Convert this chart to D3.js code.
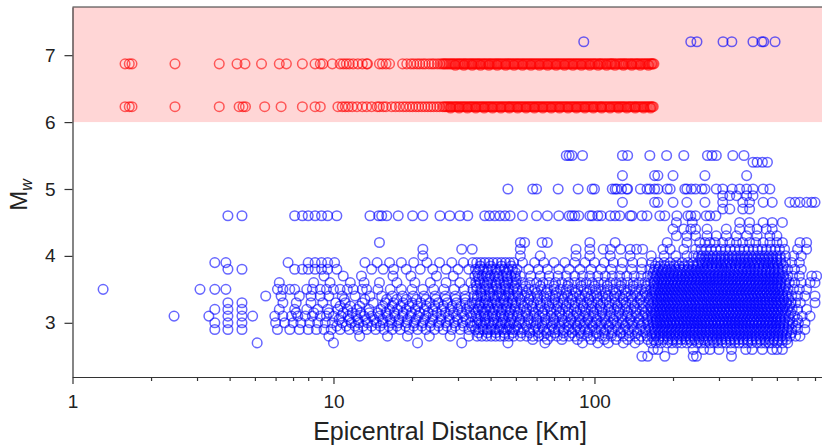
<!DOCTYPE html>
<html>
<head>
<meta charset="utf-8">
<script src="https://cdn.jsdelivr.net/npm/d3@7"></script>
<style>
body { margin: 0; background: #fff; }
svg { display: block; font-family: "Liberation Sans", Arial, Helvetica, sans-serif; }
</style>
</head>
<body>
<svg id="chart"></svg>
<script>
// magnitude levels of the blue (below threshold) events, one distance list per level
var blueMw = [2.5, 2.6, 2.7, 2.8, 2.9, 3.0, 3.1, 3.2, 3.3, 3.4, 3.5, 3.6, 3.7, 3.8, 3.9,
              4.0, 4.1, 4.2, 4.3, 4.4, 4.5, 4.6, 4.7, 4.8, 4.9, 5.0, 5.2, 5.4, 5.5, 7.2];
var blueKm = [
  [152, 160, 186, 239, 246, 335],
  [168, 175, 200, 239, 262, 277, 300, 335, 380, 402, 440, 480, 500, 525],
  [5.1, 10, 21, 31, 46.6, 64.6, 90, 103, 113, 129, 143, 165, 172, 180, 190, 198, 207, 216, 226, 236, 248, 256, 266, 277, 287, 297, 308, 320, 333, 345, 358, 372, 386, 400, 420, 436, 452, 466, 480, 500, 524, 550],
  [9.6, 12.6, 16.1, 19.2, 23.3, 28, 33, 35.5, 37, 38.6, 40.2, 41.8, 43.5, 45.2, 47, 49, 52, 55, 58, 61, 64, 68, 72, 76, 80, 84, 89, 94, 99, 104, 110, 116, 122, 129, 136, 143, 151, 159, 166, 172, 178, 184, 190, 196, 203, 210, 217, 224, 231, 239, 247, 255, 263, 272, 281, 290, 300, 310, 320, 330, 341, 352, 364, 376, 388, 401, 414, 428, 442, 457, 472, 488, 504, 521, 540, 562, 590, 613],
  [3.51, 3.94, 4.46, 6.1, 6.8, 7.4, 8.0, 8.6, 9.2, 9.8, 10.6, 11.5, 12.4, 13.4, 14.5, 15.6, 16.8, 18, 19.5, 21, 22.6, 24.4, 26.3, 28.4, 30.6, 33, 35, 36.2, 37.5, 38.8, 40.1, 41.5, 43, 44.5, 46, 47.6, 49.3, 51, 53.5, 56, 58.5, 61, 64, 67, 70, 73, 76.5, 80, 84, 88, 92, 96, 101, 106, 111, 117, 123, 129, 135, 142, 149, 157, 164, 170, 175, 181, 187, 193, 199, 206, 213, 220, 227, 235, 243, 251, 259, 268, 277, 286, 295, 305, 315, 325, 336, 347, 358, 370, 382, 395, 408, 421, 435, 450, 465, 480, 496, 512, 530, 548, 570, 600, 640],
  [3.51, 3.94, 4.46, 6.0, 6.5, 7.0, 7.5, 8.1, 8.7, 9.3, 9.9, 10.8, 11.7, 12.5, 13.5, 14.6, 15.5, 16.7, 17.8, 19.1, 20.4, 22, 23.5, 25.3, 27, 29, 31.2, 33.4, 35.5, 36.8, 38.1, 39.5, 41, 42.5, 44, 45.6, 47.3, 49, 51.5, 54, 57, 60, 63, 66, 69.5, 73, 76.5, 80, 84, 88, 92, 96.5, 101, 106, 111, 116, 122, 128, 134, 140, 147, 154, 161, 168, 173, 178, 184, 189, 195, 201, 207, 213, 220, 227, 234, 241, 248, 256, 264, 272, 280, 289, 298, 307, 316, 326, 336, 346, 357, 368, 379, 391, 403, 415, 428, 441, 455, 469, 483, 498, 514, 530, 550, 575, 605, 641],
  [2.45, 3.33, 3.94, 4.46, 4.9, 5.96, 6.4, 6.9, 7.3, 7.8, 8.3, 8.9, 9.4, 10, 10.7, 11.4, 12.2, 13.1, 14, 15, 16.1, 17.2, 18.4, 19.7, 21.1, 22.6, 24.1, 25.8, 27.6, 29.5, 31.6, 33.8, 35.3, 36.6, 37.9, 39.2, 40.6, 42, 43.6, 45.1, 46.8, 48.5, 50.5, 53, 55.5, 58.5, 61.5, 64.5, 68, 71.5, 75, 79, 83, 87, 91, 95.5, 100, 105, 110, 115, 121, 127, 133, 139, 146, 153, 160, 166, 171, 176, 182, 187, 193, 199, 205, 211, 218, 225, 232, 239, 246, 254, 262, 270, 278, 287, 296, 305, 314, 324, 334, 344, 355, 366, 377, 389, 401, 413, 426, 439, 453, 467, 482, 497, 513, 532, 555, 585, 625, 670],
  [3.51, 3.94, 4.46, 6.2, 7.1, 7.9, 8.7, 9.5, 10.4, 11.3, 12.3, 13.7, 15.2, 16.4, 17.6, 19, 20.6, 22.3, 24, 26, 28, 30, 32.3, 34.5, 35.8, 37.1, 38.4, 39.8, 41.3, 42.8, 44.3, 45.9, 47.6, 49.4, 52, 55, 58, 61, 64.5, 68, 71.5, 75.5, 79.5, 83.5, 88, 92.5, 97, 102, 107, 113, 119, 125, 131, 138, 145, 152, 160, 167, 172, 178, 183, 189, 195, 201, 208, 215, 222, 229, 236, 244, 252, 260, 268, 276, 285, 294, 303, 313, 323, 333, 343, 354, 365, 376, 388, 400, 412, 425, 438, 452, 466, 481, 496, 512, 528, 548, 572, 600, 650],
  [3.94, 4.46, 6.4, 7.2, 8.2, 9.1, 10.2, 11.1, 12.9, 14.2, 15.8, 17, 18.5, 20, 21.6, 23.4, 25.2, 27.3, 29.6, 32, 34, 35.2, 36.5, 37.8, 39.1, 40.5, 42, 43.5, 45, 46.6, 48.3, 50, 52.5, 55.5, 58.5, 62, 65.5, 69, 72.5, 76, 80, 84.5, 89, 93.5, 98, 103, 108, 114, 120, 126, 132, 139, 146, 153, 161, 168, 174, 179, 185, 191, 197, 203, 210, 217, 224, 231, 238, 246, 254, 262, 271, 280, 289, 298, 308, 318, 328, 338, 349, 360, 372, 384, 396, 409, 422, 436, 450, 465, 480, 495, 511, 527, 545, 566, 590, 615, 700],
  [5.5, 6.3, 7.4, 8.2, 8.9, 9.6, 10.8, 12.1, 13.8, 15.3, 16.8, 18.4, 20.2, 22.2, 24.5, 26.8, 29.3, 32, 34.5, 35.6, 36.9, 38.2, 39.6, 41, 42.5, 44, 45.6, 47.2, 48.9, 51, 54, 57, 60.5, 64, 67.5, 71, 75, 79, 83, 87.5, 92, 97, 102, 107.5, 113, 119, 125, 131.5, 138, 145, 152, 159, 166, 171, 177, 182, 188, 194, 200, 207, 214, 221, 228, 235, 243, 251, 259, 267, 275, 284, 293, 302, 312, 322, 332, 342, 353, 364, 375, 387, 399, 411, 424, 437, 451, 465, 479, 494, 510, 526, 544, 570, 600, 640, 700],
  [1.31, 3.08, 3.51, 3.87, 6.1, 6.4, 6.8, 7.1, 7.9, 8.3, 8.9, 9.4, 10, 10.6, 11.3, 11.9, 12.9, 13.4, 14.8, 16.5, 18.2, 20, 22, 24.2, 26.5, 29, 31.7, 34.2, 35.4, 36.7, 38, 39.4, 40.8, 42.3, 43.8, 45.4, 47, 48.7, 50.5, 53, 56, 59, 62.5, 66, 70, 74, 78, 82, 86.5, 91, 96, 101, 106, 112, 118, 124, 130, 137, 144, 151, 158, 165, 170, 175, 181, 186, 192, 198, 204, 211, 218, 225, 232, 240, 248, 256, 264, 273, 282, 291, 300, 310, 320, 330, 341, 352, 363, 375, 387, 399, 412, 425, 439, 453, 468, 483, 499, 515, 532, 552, 580, 610, 650],
  [6.2, 8.4, 9.7, 11.6, 13.1, 15, 17.5, 20.5, 23.5, 27, 30.5, 33.6, 35.1, 36.4, 37.7, 39, 40.4, 41.9, 43.4, 45, 46.6, 48.2, 50, 53, 56.5, 60, 63.5, 67, 71, 75, 79.5, 84, 88.5, 93, 98, 103.5, 109, 115, 121, 127, 134, 141, 148, 156, 164, 169, 174, 180, 185, 191, 197, 203, 209, 216, 223, 230, 237, 245, 253, 261, 269, 277, 286, 295, 304, 314, 324, 334, 345, 356, 367, 379, 391, 403, 416, 429, 443, 457, 471, 486, 502, 518, 536, 558, 585, 620, 670, 700],
  [9.2, 10.9, 12.8, 16.9, 19.8, 24.8, 28.8, 34.8, 35.9, 37.2, 38.5, 39.9, 41.4, 42.9, 44.5, 46.1, 47.8, 49.6, 52, 57, 62, 67, 72.5, 78, 84, 90, 96, 103, 110, 117, 125, 133, 142, 151, 160, 167, 172, 178, 184, 190, 196, 202, 209, 216, 223, 230, 238, 246, 254, 262, 271, 280, 289, 298, 308, 318, 328, 339, 350, 361, 373, 385, 397, 410, 423, 437, 451, 466, 481, 497, 513, 530, 550, 575, 610, 680, 710],
  [3.94, 4.46, 7.1, 7.6, 8, 8.5, 9, 9.5, 10.3, 14, 15.5, 17, 19, 21.5, 24, 27, 30, 33, 35, 36.3, 37.6, 39, 40.4, 41.9, 43.5, 45.1, 46.8, 48.5, 50.5, 56, 61, 66, 73, 80, 88, 97, 106, 116, 127, 139, 152, 163, 170, 176, 183, 190, 197, 204, 212, 220, 228, 236, 245, 254, 263, 272, 282, 292, 302, 313, 324, 335, 347, 359, 372, 385, 398, 412, 426, 441, 456, 472, 488, 505, 525, 550, 585, 620],
  [3.51, 3.87, 6.7, 8, 8.5, 9, 9.5, 10.1, 13.2, 14.7, 16.4, 18.2, 20.3, 22.8, 25.5, 28.4, 31.5, 34.2, 35.4, 36.7, 38, 39.4, 40.9, 42.4, 44, 45.6, 47.3, 49, 53, 59, 64, 70, 77, 84, 92, 100, 109, 118, 128, 140, 152, 166, 175, 185, 195, 206, 217, 228, 239, 250, 258, 266, 274, 283, 292, 301, 311, 321, 331, 342, 353, 364, 376, 388, 400, 413, 426, 440, 454, 469, 484, 500, 518, 540, 570, 610],
  [22, 52, 62, 85, 96, 115, 137, 165, 185, 205, 226, 240, 250, 258, 267, 276, 285, 295, 305, 315, 326, 337, 348, 360, 372, 384, 397, 410, 424, 438, 452, 467, 482, 498, 515, 540, 580, 620],
  [22, 31, 34, 52, 85, 96, 108, 115, 126, 137, 145, 153, 183, 195, 220, 244, 256, 268, 280, 292, 305, 318, 331, 345, 360, 375, 390, 406, 422, 439, 456, 474, 492, 512, 535, 600, 650],
  [15, 52, 54, 63, 66, 96, 120, 190, 226, 253, 265, 277, 290, 310, 330, 350, 370, 393, 415, 443, 470, 500, 525, 613, 650],
  [206, 226, 244, 270, 293, 320, 350, 383, 420, 470, 500],
  [200, 220, 234, 244, 270, 320, 360, 393, 420, 455, 480],
  [206, 237, 360, 393, 443, 480, 525],
  [3.94, 4.46, 7.1, 7.6, 8, 8.5, 9, 9.5, 10.3, 13.8, 14.9, 15.3, 16, 17.7, 20.1, 22, 25.6, 27.9, 30.5, 32.7, 38, 39.6, 41.5, 43.4, 45.4, 47.5, 53, 60, 66, 73, 80, 82, 84, 87, 96, 98, 103, 106, 115, 120, 125, 137, 139, 152, 159, 178, 186, 207, 228, 234, 244, 268, 277, 292],
  [310, 330, 370, 393],
  [128, 170, 175, 200, 226, 265, 310, 370, 393, 443, 480, 560, 587, 613, 650, 680, 700],
  [310, 330, 350, 383, 405],
  [46.6, 58, 60, 72.6, 86.6, 98, 100, 117, 120, 122, 127, 133, 134, 150, 159, 163, 170, 175, 190, 195, 222, 226, 235, 244, 258, 265, 293, 310, 337, 360, 383, 405, 443, 470],
  [128, 170, 175, 200, 265, 383],
  [405, 420, 440, 460],
  [78, 80, 82, 90, 128, 134, 163, 189, 220, 271, 282, 293, 339, 374],
  [91, 234, 247, 311, 336, 405, 438, 445, 492]
];

// in-between magnitudes that fill the crowded part of the cloud
var blueMwHalf = [2.75, 2.85, 2.95, 3.05, 3.15, 3.25, 3.35, 3.45, 3.55, 3.65, 3.75, 3.85, 3.95];
var blueKmHalf = [
  [58, 66, 75, 86, 97, 109, 121, 134, 148, 160, 169, 176, 183, 191, 199, 207, 215, 224, 233, 242, 252, 262, 272, 283, 294, 306, 318, 331, 344, 357, 371, 386, 401, 417, 433, 450, 468, 486, 505, 525, 545],
  [36, 38.9, 41.9, 45.1, 48.6, 52.5, 56.5, 61, 65.5, 70.5, 76, 82, 88, 94.5, 101.5, 109, 117, 126, 135.5, 145.5, 156.5, 166, 171.5, 177.5, 183.5, 190, 196.5, 203, 210, 217.5, 225, 232.5, 240.5, 249, 257.5, 266.5, 275.5, 285, 295, 305, 315.5, 326.5, 337.5, 349, 361, 373.5, 386.5, 399.5, 413.5, 427.5, 442, 457.5, 473, 489.5, 506, 523.5, 545, 570],
  [10.3, 11.2, 12.1, 13, 14, 15.1, 16.3, 17.5, 18.9, 20.3, 21.8, 23.5, 25.3, 27.2, 29.3, 31.5, 33.8,
   34.6, 37.3, 40.3, 43.5, 47, 50.2, 54.8, 59.5, 63.2, 68.8, 73.5, 79.8, 85.5, 91.3, 98.2, 105.5, 113.2, 121.5, 130.8, 140.2, 150.8, 161.2, 168.5, 174, 179.8, 185.8, 192, 198.4, 205, 211.8, 218.8, 226, 233.5, 241.3, 249.3, 257.6, 266.2, 275, 284.2, 293.6, 303.4, 313.5, 323.9, 334.7, 345.8, 357.3, 369.2, 381.4, 394.1, 407.2, 420.7, 434.7, 449.1, 464, 479.4, 495.4, 511.8, 530, 555, 590],
  [10.5, 11.5, 12.4, 13.3, 14.3, 15.4, 16.5, 17.8, 19.2, 20.7, 22.3, 24, 25.8, 27.8, 29.9, 32.2,
   35.8, 38.2, 41.2, 44.6, 48, 51.8, 55.9, 60.2, 64.9, 69.9, 75.4, 81.3, 87.6, 94.4, 101.8, 109.7, 118.3, 127.5, 137.4, 148.1, 159.6, 167, 172.6, 178.4, 184.4, 190.6, 197, 203.6, 210.5, 217.6, 224.9, 232.5, 240.3, 248.4, 256.7, 265.4, 274.3, 283.5, 293.1, 302.9, 313.1, 323.7, 334.6, 345.9, 357.5, 369.6, 382, 394.9, 408.2, 421.9, 436.1, 450.8, 466, 481.7, 498, 515, 535, 560, 600],
  [7.2, 8.4, 9.6, 10.9, 11.8, 12.7, 13.7, 14.8, 15.9, 17.1, 18.5, 19.9, 21.4, 23.1, 24.9, 26.8, 28.8, 31, 33.3,
   35.1, 37.7, 40.7, 43.9, 47.3, 50.8, 54.6, 58.8, 63.4, 68.4, 73.6, 79.3, 85.5, 92.1, 99.3, 107, 115.3, 124.2, 133.9, 144.3, 155.5, 165.5, 170.8, 176.5, 182.3, 188.4, 194.6, 201.1, 207.8, 214.7, 221.9, 229.3, 236.9, 244.8, 253, 261.4, 270.1, 279.1, 288.4, 298, 307.9, 318.2, 328.8, 339.8, 351.1, 362.8, 374.9, 387.4, 400.3, 413.6, 427.4, 441.6, 456.3, 471.5, 487.2, 503.4, 520.2, 540, 565],
  [10.6, 11.6, 12.6, 15.5, 16.8, 18.1, 19.5, 21, 22.7, 24.5, 26.4, 28.5, 30.7, 33.1,
   36.2, 39.2, 42.5, 46, 49.8, 53.4, 57.6, 62.1, 67, 72.2, 77.9, 84, 90.6, 97.7, 105.3, 113.6, 122.5, 132.1, 142.4, 153.6, 164, 169.7, 175.3, 181.2, 187.2, 193.4, 199.9, 206.5, 213.4, 220.5, 227.9, 235.5, 243.3, 251.4, 259.8, 268.5, 277.4, 286.7, 296.2, 306.1, 316.3, 326.8, 337.7, 349, 360.6, 372.6, 385, 397.8, 411.1, 424.8, 438.9, 453.5, 468.7, 484.3, 500.4, 517, 536, 560],
  [11, 13.2, 16, 17.5, 19, 20.8, 22.6, 24.7, 27, 29.4, 32,
   35.5, 38.4, 41.5, 44.9, 48.4, 52, 56.1, 60.6, 65.3, 70.4, 76, 81.9, 88.4, 95.3, 102.8, 110.9, 119.6, 129, 139.1, 150, 161.8, 168.2, 173.8, 179.6, 185.6, 191.8, 198.2, 204.8, 211.6, 218.7, 226, 233.5, 241.3, 249.3, 257.6, 266.2, 275.1, 284.3, 293.8, 303.6, 313.7, 324.2, 335, 346.2, 357.7, 369.6, 381.9, 394.7, 407.8, 421.4, 435.4, 449.9, 464.9, 480.4, 496.4, 513, 532, 555],
  [36.6, 39.8, 43.2, 46.8, 50.5, 55, 60, 65.5, 71.5, 78, 85, 93, 101.5, 110.5, 120.5, 131.5, 143.5, 156.5, 166.5, 172, 177.7, 183.6, 189.7, 196, 202.5, 209.3, 216.2, 223.4, 230.9, 238.6, 246.5, 254.7, 263.2, 272, 281.1, 290.4, 300.1, 310.1, 320.4, 331.1, 342.1, 353.5, 365.3, 377.5, 390, 403, 416.5, 430.3, 444.7, 459.5, 474.8, 490.6, 507, 525, 548],
  [35.3, 38.6, 42, 45.7, 49.5, 54.5, 62, 70, 79, 89, 100, 112, 126, 141, 158, 169.3, 175, 180.8, 186.8, 193, 199.5, 206.1, 213, 220.1, 227.4, 235, 242.8, 250.9, 259.3, 267.9, 276.8, 286, 295.5, 305.4, 315.6, 326.1, 336.9, 348.2, 359.8, 371.8, 384.1, 396.9, 410.1, 423.8, 437.9, 452.5, 467.5, 483.1, 499.2, 516, 540],
  [36, 39.3, 42.8, 46.5, 50.2, 170.2, 176, 182, 188, 194.3, 200.8, 207.5, 214.4, 221.5, 228.9, 236.5, 244.4, 252.5, 260.9, 269.6, 278.6, 287.9, 297.4, 307.3, 317.6, 328.1, 339, 350.3, 362, 374, 386.5, 399.3, 412.6, 426.3, 440.5, 455.2, 470.3, 486, 502, 520, 545],
  [35.6, 38.9, 42.4, 46, 49.8, 168, 174, 180.5, 187, 194, 201, 208.5, 216, 224, 232, 240.5, 249, 258, 267.5, 277, 287, 297.5, 308, 319, 330.5, 342.5, 355, 367.5, 381, 394.5, 408.5, 423, 438, 453.5, 470, 487, 505, 525],
  [36.5, 40, 44, 48, 171, 178, 186, 194, 202, 211, 220, 229, 239, 249, 259.5, 270.5, 282, 294, 306.5, 319.5, 333, 347, 361.5, 377, 393, 409.5, 427, 445, 464, 484, 505, 530],
  [255, 264, 273, 283, 293, 304, 315, 326, 338, 350, 362.5, 375.5, 389, 403, 417.5, 432.5, 448, 464, 481, 498, 516]
];

// the two red (above threshold) events
var redMw = [6.87, 6.23];
var redKm = [
  [1.59, 1.65, 1.69, 2.47, 3.65, 4.27, 4.58, 5.3, 6.2, 6.6, 7.6, 8.5, 8.9, 9.1, 9.9, 10.6, 10.9, 11.2, 11.5, 11.9, 12.4, 12.9, 13.4, 13.5, 15.0, 15.4, 15.9, 16.4, 18.4, 19.1,
   19.8, 20.3, 20.9, 21.4, 22.0, 22.5, 23.2, 23.8, 24.3, 25.0, 25.6, 26.4, 27.0, 27.7, 28.4, 29.1, 29.9, 30.6, 31.4, 32.1, 33.0, 33.8, 34.6, 35.5, 36.3, 37.3, 38.2, 39.2, 40.1, 41.2, 42.2, 43.2, 44.3, 45.5, 46.6, 47.8, 49.0, 50.3, 51.5, 52.9, 54.2, 55.6, 57.0, 58.4, 59.9, 61.4, 63.0, 64.6, 66.2, 67.9, 69.6, 71.4, 73.1, 75.0, 76.9, 78.9, 80.8, 82.9, 85.0, 87.1, 89.3, 91.6, 93.9, 96.3, 98.7, 101, 104, 106, 109, 112, 115, 117, 120, 124, 127, 130, 133, 137, 140, 144, 147, 151, 155, 159, 163, 166, 169,
   26.1, 26.7, 27.35, 28.05, 28.75, 29.5, 30.25, 31, 31.8, 32.55, 33.4, 34.2, 35.05, 35.9, 36.75, 37.7, 38.65, 39.65, 40.6, 41.7, 42.7, 43.75, 44.9, 46, 47.2, 48.4, 49.65, 50.9, 52.2, 53.5, 54.9, 56.3, 57.7, 59.15, 60.65, 62.2, 63.8, 65.4, 67.05, 68.75, 70.5, 72.25, 74.05, 75.95, 77.9, 79.85, 81.85, 83.95, 86.05, 88.2, 90.45, 92.75, 95.1, 97.5, 100, 102.5, 105, 107.5, 110.5, 113.5, 116, 118.5, 122, 125.5, 128.5, 131.5, 135, 138.5, 142, 145.5, 149, 153, 157, 161, 165, 167.5],
  [1.59, 1.65, 1.69, 2.47, 3.65, 4.35, 4.5, 4.6, 5.45, 6.3, 7.6, 8.5, 8.9, 10.4, 10.8, 11.1, 11.4, 11.8, 12.3, 12.9, 13.4, 14.0, 14.7, 15.0, 15.5, 15.9, 16.7, 17.3, 17.9,
   18.5, 19.0, 19.6, 20.1, 20.7, 21.2, 21.8, 22.4, 23.0, 23.6, 24.2, 24.9, 25.5, 26.2, 26.9, 27.6, 28.3, 29.1, 29.8, 30.6, 31.4, 32.2, 33.1, 33.9, 34.8, 35.7, 36.7, 37.6, 38.6, 39.6, 40.6, 41.7, 42.8, 43.9, 45.0, 46.2, 47.4, 48.6, 49.9, 51.2, 52.5, 53.9, 55.3, 56.7, 58.2, 59.7, 61.2, 62.8, 64.4, 66.1, 67.8, 69.6, 71.4, 73.2, 75.1, 77.1, 79.0, 81.1, 83.2, 85.3, 87.5, 89.8, 92.1, 94.5, 97.0, 99.5, 102, 105, 107, 110, 113, 116, 119, 122, 125, 128, 131, 135, 138, 142, 145, 149, 153, 157, 161, 165, 168,
   26.55, 27.25, 27.95, 28.7, 29.45, 30.2, 31, 31.8, 32.65, 33.5, 34.35, 35.25, 36.2, 37.15, 38.1, 39.1, 40.1, 41.15, 42.25, 43.35, 44.45, 45.6, 46.8, 48, 49.25, 50.55, 51.85, 53.2, 54.6, 56, 57.45, 58.95, 60.45, 62, 63.6, 65.25, 66.95, 68.7, 70.5, 72.3, 74.15, 76.1, 78.05, 80.05, 82.15, 84.25, 86.4, 88.65, 90.95, 93.3, 95.75, 98.25, 100.7, 103.5, 106, 108.5, 111.5, 114.5, 117.5, 120.5, 123.5, 126.5, 129.5, 133, 136.5, 140, 143.5, 147, 151, 155, 159, 163, 166.5]
];
// the same two events seen at slightly different magnitude estimates
var redMwB = [6.85, 6.21];
var redKmB = [
  [29.3, 31.6, 34, 36.6, 39.4, 42.4, 45.7, 49.2, 53, 57.1, 61.5, 66.2, 71.3, 76.8, 82.7, 89.1, 95.9, 103.3, 111.3, 119.9, 129.1, 139, 149.7, 161],
  [28.1, 30.3, 32.6, 35.1, 37.8, 40.7, 43.8, 47.2, 50.8, 54.7, 58.9, 63.4, 68.3, 73.5, 79.2, 85.3, 91.9, 99, 106.6, 114.8, 123.6, 133.1, 143.3, 154.3, 164]
];

var threshold = 6;
var majorTicks = [1, 10, 100];
var minorTicks = [2, 3, 4, 5, 6, 7, 8, 9, 20, 30, 40, 50, 60, 70, 80, 90, 200, 300, 400, 500, 600, 700];
var yTicks = [3, 4, 5, 6, 7];

var screen = {width: 822, height: 448};
var margins = {top: 7, right: -6, bottom: 71, left: 72.5};

var svg = d3.select("#chart")
    .attr("width", screen.width)
    .attr("height", screen.height);

var x0 = margins.left, x1 = screen.width - margins.right;
var y0 = screen.height - margins.bottom, y1 = margins.top;

var xscale = d3.scaleLog().domain([1, 785]).range([x0, x1]);
var yscale = d3.scaleLinear().domain([2.19, 7.72]).range([y0, y1]);

// shaded band above the threshold
svg.append("rect")
    .attr("x", x0)
    .attr("y", yscale(7.72))
    .attr("width", x1 - x0)
    .attr("height", yscale(threshold) - yscale(7.72))
    .attr("fill", "red")
    .attr("fill-opacity", 0.16);

var toPoints = function(mws, kms)
    {
        var pts = [];
        mws.forEach(function(m, i) {
            kms[i].forEach(function(d) { pts.push({km: d, mw: m}); });
        });
        return pts;
    };

var drawPoints = function(pts, colour)
    {
        svg.append("g")
            .selectAll("circle")
            .data(pts)
            .enter()
            .append("circle")
            .attr("cx", function(d) { return xscale(d.km); })
            .attr("cy", function(d) { return yscale(d.mw); })
            .attr("r", 4.8)
            .attr("fill", "none")
            .attr("stroke", colour)
            .attr("stroke-width", 1.5)
            .attr("stroke-opacity", 0.6);
    };

drawPoints(toPoints(blueMw, blueKm).concat(toPoints(blueMwHalf, blueKmHalf)), "blue");
drawPoints(toPoints(redMw, redKm).concat(toPoints(redMwB, redKmB)), "red");

// axes
var xAxis = d3.axisBottom(xscale)
    .tickValues(majorTicks)
    .tickFormat(d3.format("d"))
    .tickSize(7)
    .tickSizeOuter(0)
    .tickPadding(11);
var xMinor = d3.axisBottom(xscale)
    .tickValues(minorTicks)
    .tickFormat("")
    .tickSize(4)
    .tickSizeOuter(0);
var yAxis = d3.axisLeft(yscale)
    .tickValues(yTicks)
    .tickFormat(d3.format("d"))
    .tickSize(8)
    .tickSizeOuter(0)
    .tickPadding(9);

svg.append("g").attr("id", "xMinor")
    .attr("transform", "translate(0," + y0 + ")")
    .call(xMinor);
svg.append("g").attr("id", "xAxis")
    .attr("transform", "translate(0," + y0 + ")")
    .call(xAxis);
svg.append("g").attr("id", "yAxis")
    .attr("transform", "translate(" + x0 + ",0)")
    .call(yAxis);

svg.append("line")
    .attr("x1", x0).attr("x2", x1)
    .attr("y1", y1).attr("y2", y1)
    .attr("stroke", "#333").attr("stroke-width", 1.2);

svg.selectAll(".domain, .tick line")
    .attr("stroke", "#333")
    .attr("stroke-width", 1.2);
svg.selectAll(".tick text")
    .attr("fill", "#222")
    .style("font-size", "19px")
    .style("font-family", "'Liberation Sans', Arial, sans-serif");

// labels
svg.append("text")
    .attr("x", 450)
    .attr("y", 440)
    .attr("text-anchor", "middle")
    .attr("fill", "#222")
    .style("font-size", "25px")
    .text("Epicentral Distance [Km]");

var ylab = svg.append("text")
    .attr("transform", "translate(27,195) rotate(-90)")
    .attr("text-anchor", "middle")
    .attr("fill", "#222")
    .style("font-size", "24px");
ylab.append("tspan").text("M");
ylab.append("tspan")
    .attr("dy", 5)
    .style("font-size", "16px")
    .style("font-style", "italic")
    .text("w");
</script>
</body>
</html>
